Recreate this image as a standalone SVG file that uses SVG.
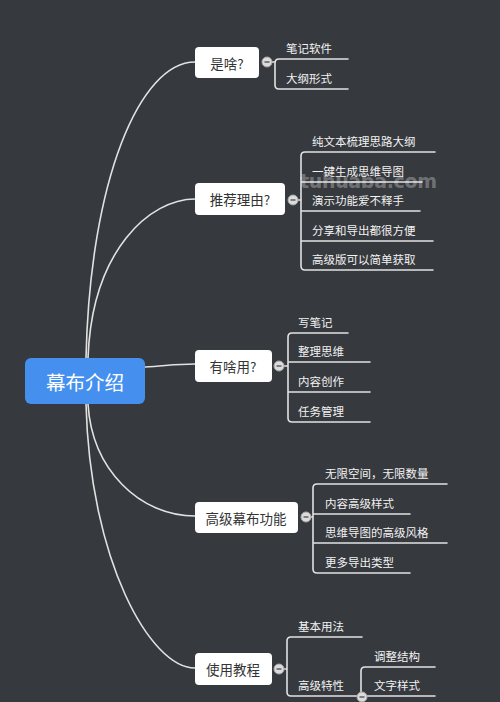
<svg xmlns="http://www.w3.org/2000/svg" width="500" height="702" viewBox="0 0 500 702">
<style>
.bg{fill:#36393e}
.ln{fill:none;stroke:#e2e2e2;stroke-width:1.6;stroke-linecap:round}
.n1 rect{fill:#ffffff}
.n1 text{font-family:"Noto Sans CJK SC","Noto Sans",sans-serif;font-size:13.5px;fill:#333333;text-anchor:middle;dominant-baseline:central}
.ch{font-family:"Noto Sans CJK SC","Noto Sans",sans-serif;font-size:11.5px;fill:#f2f2f2}
.tg circle{fill:#dcdcdc;stroke:#a8a8a8;stroke-width:1}
.tg path{stroke:#555;stroke-width:1.4}
</style>
<rect class="bg" x="0" y="0" width="500" height="702"/>
<g id="connectors">
<path class="ln" d="M 86 358 C 90 180, 140 62, 195 62"/>
<path class="ln" d="M 88 358 C 92 250, 150 199, 195 199"/>
<path class="ln" d="M 145 367 C 165 366, 175 364, 195 364"/>
<path class="ln" d="M 88 404 C 92 470, 140 516, 195 516"/>
<path class="ln" d="M 86 404 C 90 560, 150 668, 195 668"/>
<path class="ln" d="M 267 62 H 275 M 348 59 H 279 Q 275 59 275 63 V 85 Q 275 89 279 89 H 348"/>
<path class="ln" d="M 293 200 H 301 M 435 152 H 305 Q 301 152 301 156 V 266 Q 301 270 305 270 H 433 M 301 182 H 422 M 301 211 H 420 M 301 241 H 433"/>
<path class="ln" d="M 279 366 H 288 M 348 333 H 292 Q 288 333 288 337 V 418 Q 288 422 292 422 H 370 M 288 362 H 370 M 288 392 H 370"/>
<path class="ln" d="M 306 517 H 313 M 447 484 H 317 Q 313 484 313 488 V 569 Q 313 573 317 573 H 410 M 313 514 H 410 M 313 543 H 447"/>
<path class="ln" d="M 279 669 H 287 M 362 637 H 291 Q 287 637 287 641 V 692 Q 287 696 291 696 H 435 M 435 667 H 365 Q 361 667 361 671 V 696"/>
</g>
<g id="root">
<rect x="25" y="358" width="120" height="46" rx="6" fill="#4590ee"/>
<text x="85" y="381" font-family="Noto Sans CJK SC, Noto Sans, sans-serif" font-size="19.5" fill="#ffffff" text-anchor="middle" dominant-baseline="central">幕布介绍</text>
</g>
<g id="n-shisha" class="n1"><rect x="195" y="47" width="64" height="31" rx="4"/><text x="227" y="62.5">是啥?</text></g>
<g id="n-tuijian" class="n1"><rect x="195" y="183" width="90" height="32" rx="4"/><text x="240" y="199">推荐理由?</text></g>
<g id="n-youshayong" class="n1"><rect x="195" y="350" width="77" height="32" rx="4"/><text x="233" y="366">有啥用?</text></g>
<g id="n-gaoji" class="n1"><rect x="195" y="502" width="103" height="31" rx="4"/><text x="246" y="517.5">高级幕布功能</text></g>
<g id="n-jiaocheng" class="n1"><rect x="195" y="653" width="77" height="32" rx="4"/><text x="233" y="669">使用教程</text></g>
<g id="toggles" class="tg">
<g><circle cx="267" cy="62" r="5"/><path d="M 264.5 62 H 269.5"/></g>
<g><circle cx="293" cy="200" r="5"/><path d="M 290.5 200 H 295.5"/></g>
<g><circle cx="279" cy="366" r="5"/><path d="M 276.5 366 H 281.5"/></g>
<g><circle cx="306" cy="517" r="5"/><path d="M 303.5 517 H 308.5"/></g>
<g><circle cx="279" cy="669" r="5"/><path d="M 276.5 669 H 281.5"/></g>
<g><circle cx="362" cy="697" r="5"/><path d="M 359.5 697 H 364.5"/></g>
</g>
<g id="children-shisha"><text class="ch" x="286" y="53">笔记软件</text><text class="ch" x="286" y="83">大纲形式</text></g>
<g id="children-tuijian">
<text class="ch" x="312" y="146">纯文本梳理思路大纲</text>
<text class="ch" x="312" y="176">一键生成思维导图</text>
<text class="ch" x="312" y="205">演示功能爱不释手</text>
<text class="ch" x="312" y="235">分享和导出都很方便</text>
<text class="ch" x="312" y="264">高级版可以简单获取</text>
</g>
<g id="children-youshayong">
<text class="ch" x="298" y="327">写笔记</text>
<text class="ch" x="298" y="356">整理思维</text>
<text class="ch" x="298" y="386">内容创作</text>
<text class="ch" x="298" y="416">任务管理</text>
</g>
<g id="children-gaoji">
<text class="ch" x="325" y="478">无限空间，无限数量</text>
<text class="ch" x="325" y="508">内容高级样式</text>
<text class="ch" x="325" y="537">思维导图的高级风格</text>
<text class="ch" x="325" y="567">更多导出类型</text>
</g>
<g id="children-jiaocheng">
<text class="ch" x="298" y="631">基本用法</text>
<text class="ch" x="298" y="690">高级特性</text>
<text class="ch" x="374" y="661">调整结构</text>
<text class="ch" x="374" y="690">文字样式</text>
</g>
<text x="300" y="188" font-family="DejaVu Sans, sans-serif" font-weight="bold" font-size="19" fill="#ffffff" fill-opacity="0.3" textLength="137">tuhuaba.com</text>
</svg>
